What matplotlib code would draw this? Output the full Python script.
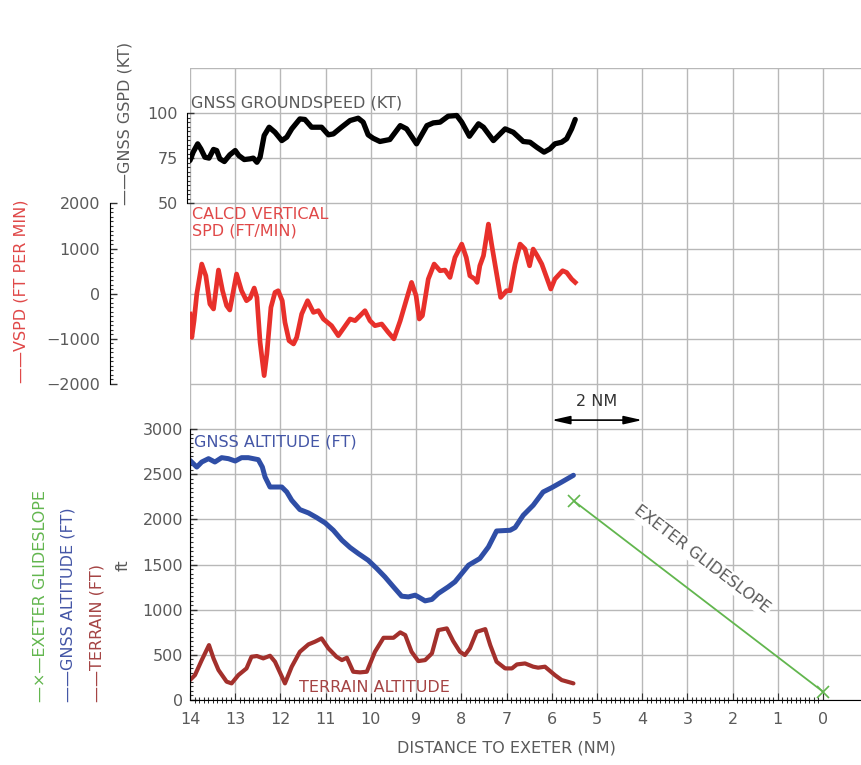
import numpy as np
import matplotlib
matplotlib.use('Agg')
import matplotlib.pyplot as plt
from matplotlib.ticker import FixedLocator

# GNSS groundspeed (kt) against distance to Exeter (NM)
gs_nm = [14.0, 13.93, 13.83, 13.76, 13.67, 13.58, 13.48, 13.41, 13.34, 13.24, 13.12, 13.0,
         12.92, 12.80, 12.67, 12.60, 12.52, 12.45, 12.36, 12.25, 12.12, 11.97, 11.86, 11.75,
         11.57, 11.46, 11.31, 11.20, 11.09, 10.94, 10.83, 10.65, 10.46, 10.28, 10.17, 10.06,
         9.95, 9.80, 9.58, 9.35, 9.21, 8.99, 8.76, 8.62, 8.47, 8.29, 8.10, 7.99, 7.82, 7.62,
         7.51, 7.29, 7.03, 6.85, 6.63, 6.48, 6.33, 6.17, 6.04, 5.93, 5.78, 5.67, 5.56, 5.48]
gs_kt = [73.8, 78.4, 83.0, 80.2, 75.6, 75.1, 79.9, 79.3, 74.7, 73.2, 76.9, 79.3,
         76.5, 74.3, 74.7, 75.1, 72.8, 75.6, 87.6, 92.2, 89.4, 84.8, 86.7, 91.3,
         96.8, 96.5, 92.2, 92.2, 92.2, 88.0, 88.5, 92.2, 95.9, 97.2, 95.0, 88.0,
         86.1, 84.3, 85.4, 93.1, 91.3, 83.0, 93.1, 94.6, 95.0, 98.3, 98.7, 95.0, 87.2, 94.1,
         92.2, 84.8, 91.3, 89.4, 84.3, 83.9, 81.1, 78.4, 80.2, 83.0, 83.9, 85.8, 91.3, 96.5]

# calculated vertical speed (ft/min)
vs_nm = [14.0, 13.96, 13.91, 13.85, 13.74, 13.65, 13.56, 13.48, 13.37, 13.28, 13.19, 13.12,
         12.97, 12.86, 12.75, 12.67, 12.58, 12.52, 12.45, 12.36, 12.30, 12.21, 12.12, 12.05,
         11.96, 11.90, 11.81, 11.71, 11.64, 11.53, 11.40, 11.27, 11.16, 11.05, 10.87, 10.72,
         10.59, 10.46, 10.35, 10.24, 10.13, 10.02, 9.91, 9.76, 9.62, 9.49, 9.35, 9.21, 9.10,
         9.00, 8.93, 8.86, 8.73, 8.60, 8.47, 8.36, 8.25, 8.14, 7.99, 7.89, 7.81, 7.70, 7.65,
         7.59, 7.51, 7.44, 7.40, 7.33, 7.23, 7.13, 7.00, 6.92, 6.81, 6.70, 6.59, 6.49, 6.41,
         6.32, 6.22, 6.02, 5.93, 5.76, 5.67, 5.56, 5.48]
vs_fpm = [-450, -967, -597, -7, 657, 398, -228, -338, 524, 66, -265, -361,
          436, 66, -155, -95, 126, -82, -1077, -1814, -1334, -303, 29, 66,
          -155, -635, -1040, -1113, -967, -450, -155, -413, -376, -560, -708, -929,
          -745, -560, -597, -487, -376, -597, -708, -671, -850, -1000, -597, -118, 251,
          -44, -560, -487, 325, 657, 509, 524, 361, 803, 1099, 803, 398, 325, 251,
          619, 841, 1283, 1542, 1099, 509, -82, 66, 66, 657, 1099, 989, 619, 989,
          841, 657, 104, 325, 509, 471, 325, 251]

# GNSS altitude (ft)
alt_nm = [14.0, 13.85, 13.74, 13.59, 13.45, 13.30, 13.15, 13.0, 12.86, 12.71, 12.49, 12.40,
          12.34, 12.23, 11.97, 11.86, 11.75, 11.57, 11.38, 11.20, 11.01, 10.83, 10.64, 10.46,
          10.28, 10.06, 9.87, 9.69, 9.50, 9.32, 9.17, 9.02, 8.95, 8.80, 8.65, 8.51, 8.29,
          8.14, 7.99, 7.84, 7.59, 7.40, 7.22, 6.92, 6.81, 6.63, 6.41, 6.19, 6.00, 5.78, 5.52]
alt_ft = [2654, 2580, 2636, 2673, 2636, 2684, 2673, 2647, 2684, 2684, 2662, 2580,
          2470, 2359, 2359, 2304, 2212, 2109, 2072, 2021, 1961, 1880, 1770, 1689,
          1623, 1548, 1457, 1364, 1253, 1150, 1142, 1161, 1142, 1098, 1114, 1180, 1253,
          1309, 1401, 1493, 1567, 1695, 1872, 1880, 1910, 2046, 2157, 2304, 2352, 2414, 2489]

# terrain altitude (ft)
ter_nm = [14.0, 13.89, 13.74, 13.58, 13.48, 13.37, 13.19, 13.08, 12.93, 12.75, 12.64, 12.52,
          12.38, 12.23, 12.12, 11.90, 11.75, 11.57, 11.38, 11.24, 11.09, 10.94, 10.76, 10.64,
          10.53, 10.39, 10.24, 10.09, 9.91, 9.72, 9.50, 9.35, 9.24, 9.10, 8.95, 8.80, 8.65,
          8.51, 8.32, 8.18, 8.03, 7.92, 7.81, 7.66, 7.47, 7.36, 7.22, 7.03, 6.88, 6.77, 6.59,
          6.41, 6.30, 6.15, 5.93, 5.78, 5.52]
ter_ft = [221, 276, 442, 608, 461, 332, 203, 184, 276, 350, 479, 487,
          461, 490, 424, 184, 369, 534, 616, 645, 682, 572, 479, 442,
          468, 313, 306, 313, 534, 689, 689, 749, 719, 534, 431, 442, 516,
          774, 793, 653, 534, 498, 572, 755, 785, 608, 424, 350, 350, 394, 405,
          369, 358, 369, 276, 221, 184]

# Exeter glideslope end points
gsl_nm = [5.5, 0.0]
gsl_ft = [2200, 92]

plt.rcParams['font.family'] = 'DejaVu Sans'
GREY = '#5a5a5a'
FS = 11.5

fig = plt.figure(figsize=(8.61, 7.65), dpi=100)
rect = [190 / 861, 1 - 700 / 765, 671 / 861, 632 / 765]
xlim = (14, -0.84)

# background grid
axg = fig.add_axes(rect)
axg.set_xlim(*xlim)
axg.set_ylim(0, 7000)
axg.set_xticks(np.arange(0, 15, 1))
axg.set_yticks(np.arange(0, 7001, 500))
axg.tick_params(length=0, labelbottom=False, labelleft=False)
axg.grid(True, color='#b8b8b8', lw=1.0)
for s in axg.spines.values():
    s.set_visible(False)


def overlay(ylim):
    a = fig.add_axes(rect, facecolor='none', sharex=axg)
    a.set_ylim(*ylim)
    for s in ('top', 'right', 'bottom'):
        a.spines[s].set_visible(False)
    a.tick_params(axis='x', which='both', bottom=False, labelbottom=False)
    a.tick_params(axis='y', which='both', direction='in', colors='#333333',
                  labelcolor=GREY, labelsize=FS)
    a.tick_params(axis='y', which='major', length=5, width=1)
    a.tick_params(axis='y', which='minor', length=2.5, width=0.8)
    return a


# altitude axis (ft)
ax = overlay((0, 7000))
ax.spines['bottom'].set_visible(True)
ax.spines['left'].set_bounds(0, 3000)
ax.set_yticks(np.arange(0, 3001, 500))
ax.yaxis.set_minor_locator(FixedLocator(np.arange(0, 3001, 50)))
ax.tick_params(axis='y', pad=5)
ax.tick_params(axis='x', which='both', bottom=True, labelbottom=True, direction='in',
               colors='#333333', labelcolor=GREY, labelsize=FS, pad=9)
ax.tick_params(axis='x', which='major', length=5)
ax.tick_params(axis='x', which='minor', length=2.5, width=0.8)
ax.set_xticks(np.arange(0, 15, 1))
ax.set_xticklabels([str(v) for v in range(0, 15)])
ax.xaxis.set_minor_locator(FixedLocator(np.arange(0, 14.01, 0.1)))
ax.set_xlabel('DISTANCE TO EXETER (NM)', color=GREY, fontsize=FS)
ax.xaxis.set_label_coords(0.472, -0.064)

ax.plot(ter_nm, ter_ft, color='#a3302c', lw=3, solid_capstyle='round')
ax.plot(alt_nm, alt_ft, color='#2f4ea6', lw=3.6, solid_capstyle='round')
ax.plot(gsl_nm, gsl_ft, color='#62b64e', lw=1.3, marker='x', ms=9, mew=1.2)

ax.text(13.92, 2860, 'GNSS ALTITUDE (FT)', color='#4456a6', fontsize=FS, va='center')
ax.text(11.6, 135, 'TERRAIN ALTITUDE', color='#a54444', fontsize=FS, va='center')
ax.text(5.0, 3310, '2 NM', color='#333333', fontsize=FS, ha='center', va='center')
ax.annotate('', xy=(4.0, 3100), xytext=(6.0, 3100),
            arrowprops=dict(arrowstyle='<|-|>,head_length=1.1,head_width=0.25',
                            color='black', lw=1.2, shrinkA=0, shrinkB=0))

p0 = ax.transData.transform((gsl_nm[0], gsl_ft[0]))
p1 = ax.transData.transform((gsl_nm[1], gsl_ft[1]))
ang = np.degrees(np.arctan2(p1[1] - p0[1], p1[0] - p0[0]))
ax.text(2.68, 1560, 'EXETER GLIDESLOPE', color=GREY, fontsize=FS, rotation=ang,
        ha='center', va='center', rotation_mode='anchor',
        bbox=dict(facecolor='white', edgecolor='none', pad=1.5))

# groundspeed axis (kt)
ax_gs = overlay((-225, 125))
ax_gs.spines['left'].set_bounds(50, 100)
ax_gs.spines['left'].set_position(('outward', 2.5))
ax_gs.set_yticks([50, 75, 100])
ax_gs.yaxis.set_minor_locator(FixedLocator(np.arange(50, 100.1, 2.5)))
ax_gs.tick_params(axis='y', pad=6)
ax_gs.plot(gs_nm, gs_kt, color='black', lw=3.8, solid_capstyle='round')
ax_gs.text(13.98, 103.3, 'GNSS GROUNDSPEED (KT)', color=GREY, fontsize=FS, va='baseline')

# vertical speed axis (ft/min)
ax_vs = overlay((-9000, 5000))
ax_vs.spines['left'].set_bounds(-2000, 2000)
ax_vs.spines['left'].set_position(('outward', 57.6))
ax_vs.set_yticks(np.arange(-2000, 2001, 1000))
ax_vs.yaxis.set_minor_locator(FixedLocator(np.arange(-2000, 2001, 100)))
ax_vs.tick_params(axis='y', pad=7)
ax_vs.plot(vs_nm, vs_fpm, color='#e8302b', lw=3.4)
ax_vs.text(13.96, 1930, 'CALCD VERTICAL\nSPD (FT/MIN)', color='#e04848', fontsize=FS,
           va='top', linespacing=1.15)

# axis legends written on the left
fig.text(0.145, 0.732, '\u2014\u2014GNSS GSPD (KT)', rotation=90, ha='center',
         va='bottom', color=GREY, fontsize=FS)
fig.text(0.024, 0.499, '\u2014\u2014VSPD (FT PER MIN)', rotation=90, ha='center',
         va='bottom', color='#e04848', fontsize=FS)
fig.text(0.047, 0.083, '\u2014\u00d7\u2014EXETER GLIDESLOPE', rotation=90, ha='center',
         va='bottom', color='#62b64e', fontsize=FS)
fig.text(0.079, 0.083, '\u2014\u2014GNSS ALTITUDE (FT)', rotation=90, ha='center',
         va='bottom', color='#4456a6', fontsize=FS)
fig.text(0.113, 0.083, '\u2014\u2014TERRAIN (FT)', rotation=90, ha='center',
         va='bottom', color='#a54444', fontsize=FS)
fig.text(0.143, 0.261, 'ft', rotation=90, ha='center', va='center',
         color=GREY, fontsize=FS)

fig.savefig('out.png', dpi=100)
